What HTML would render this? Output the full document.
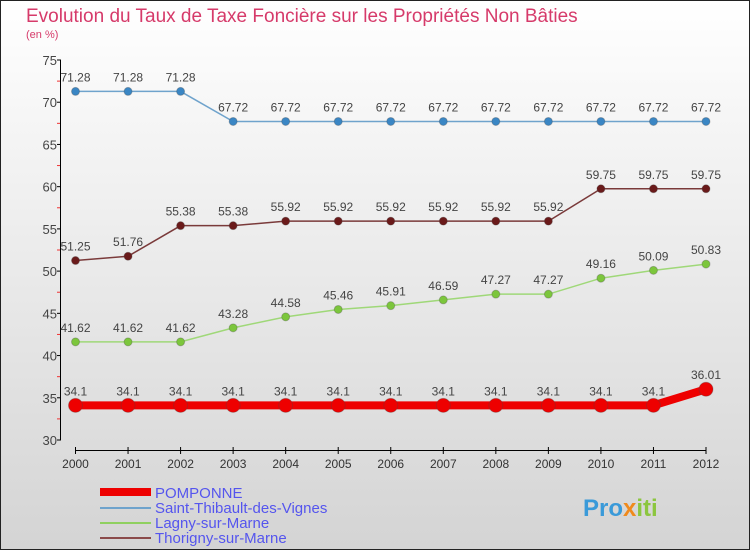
<!DOCTYPE html>
<html><head><meta charset="utf-8"><style>
body{margin:0}
#c{width:750px;height:550px;position:relative;overflow:hidden}
svg text{font-family:"Liberation Sans",sans-serif}
</style></head><body>
<div id="c">
<svg id="s" width="750" height="550" xmlns="http://www.w3.org/2000/svg">
<defs><linearGradient id="bg" x1="0" y1="0" x2="0" y2="1"><stop offset="0" stop-color="#ffffff"/><stop offset="1" stop-color="#d4d4d4"/></linearGradient></defs>
<rect x="0.5" y="0.5" width="749" height="549" fill="url(#bg)" stroke="#222"/>
<text x="26" y="22" font-size="19" fill="#d63a6a">Evolution du Taux de Taxe Foncière sur les Propriétés Non Bâties</text>
<text x="26" y="38" font-size="11" fill="#d63a6a">(en %)</text>
<g id="axes"></g><g id="series"></g>
<g>
<rect x="100" y="488" width="51" height="8" fill="#e00"/>
<text x="155" y="498" font-size="15" fill="#5555ee">POMPONNE</text>
<rect x="100" y="507" width="51" height="2" fill="#6fa3cc"/>
<text x="155" y="513" font-size="15" fill="#5555ee">Saint-Thibault-des-Vignes</text>
<rect x="100" y="522" width="51" height="2" fill="#8fd060"/>
<text x="155" y="528" font-size="15" fill="#5555ee">Lagny-sur-Marne</text>
<rect x="100" y="537" width="51" height="2" fill="#8a4a4a"/>
<text x="155" y="543" font-size="15" fill="#5555ee">Thorigny-sur-Marne</text>
</g>
<text x="583" y="516" font-size="24" font-weight="bold" fill="#3a9ad9">Pro<tspan fill="#f08a1c">x</tspan><tspan fill="#8cc63f">iti</tspan></text>
</svg></div>
<script>
const years=[2000,2001,2002,2003,2004,2005,2006,2007,2008,2009,2010,2011,2012];
const yTicks=[30,35,40,45,50,55,60,65,70,75];
const stThibault=[71.28,71.28,71.28,67.72,67.72,67.72,67.72,67.72,67.72,67.72,67.72,67.72,67.72];
const thorigny=[51.25,51.76,55.38,55.38,55.92,55.92,55.92,55.92,55.92,55.92,59.75,59.75,59.75];
const lagny=[41.62,41.62,41.62,43.28,44.58,45.46,45.91,46.59,47.27,47.27,49.16,50.09,50.83];
const pomponne=[34.1,34.1,34.1,34.1,34.1,34.1,34.1,34.1,34.1,34.1,34.1,34.1,36.01];
const NS="http://www.w3.org/2000/svg";
const xS=i=>75.5+i*(706-75.5)/(years.length-1);
const yS=v=>440-(v-30)*(380/45);
function mk(t,a,p){const e=document.createElementNS(NS,t);for(const k in a)e.setAttribute(k,a[k]);p.appendChild(e);return e;}
const ax=document.getElementById('axes');
let l=mk('line',{x1:60.5,y1:60,x2:60.5,y2:440,stroke:'#000'},ax);


yTicks.forEach((v,i)=>{
 mk('line',{x1:57,x2:61,y1:yS(v),y2:yS(v),stroke:'#000'},ax);
 if(i<yTicks.length-1)mk('line',{x1:57,x2:60,y1:yS(v+2.5),y2:yS(v+2.5),stroke:'#e33'},ax);
 const t=mk('text',{x:57,y:yS(v)+5,'font-size':13,fill:'#444','text-anchor':'end'},ax);t.textContent=v;
 
 
});
l=mk('line',{x1:75,y1:450.5,x2:706,y2:450.5,stroke:'#000'},ax);


years.forEach((y,i)=>{
 mk('line',{x1:xS(i),x2:xS(i),y1:447,y2:454,stroke:'#000'},ax);
 const t=mk('text',{x:xS(i),y:468,'font-size':12,fill:'#333','text-anchor':'middle'},ax);t.textContent=y;
 
 
});
const sg=document.getElementById('series');
function series(data,name,line,pt,w,r){
 const g=mk('g',{},sg);
 
 
 const p=mk('polyline',{points:data.map((v,i)=>xS(i)+','+yS(v)).join(' '),fill:'none',stroke:line,'stroke-width':w},g);
 
 
 data.forEach((v,i)=>{
  const c=mk('circle',{cx:xS(i),cy:yS(v),r:r,fill:pt,stroke:'#444','stroke-opacity':0.3},g);
  
  
  const t=mk('text',{x:xS(i),y:yS(v)-10,'font-size':12,fill:'#444','text-anchor':'middle'},g);t.textContent=v;
  
  
 });
}
series(stThibault,'saint-thibault-series','#6fa3cc','#3a86c4',1.5,4);
series(thorigny,'thorigny-series','#7a3a3a','#6a1a1a',1.5,4);
series(lagny,'lagny-series','#9fd878','#7cc63c',1.5,4);
series(pomponne,'pomponne-series','#e00','#e00',8,7);
</script>
</body></html>
